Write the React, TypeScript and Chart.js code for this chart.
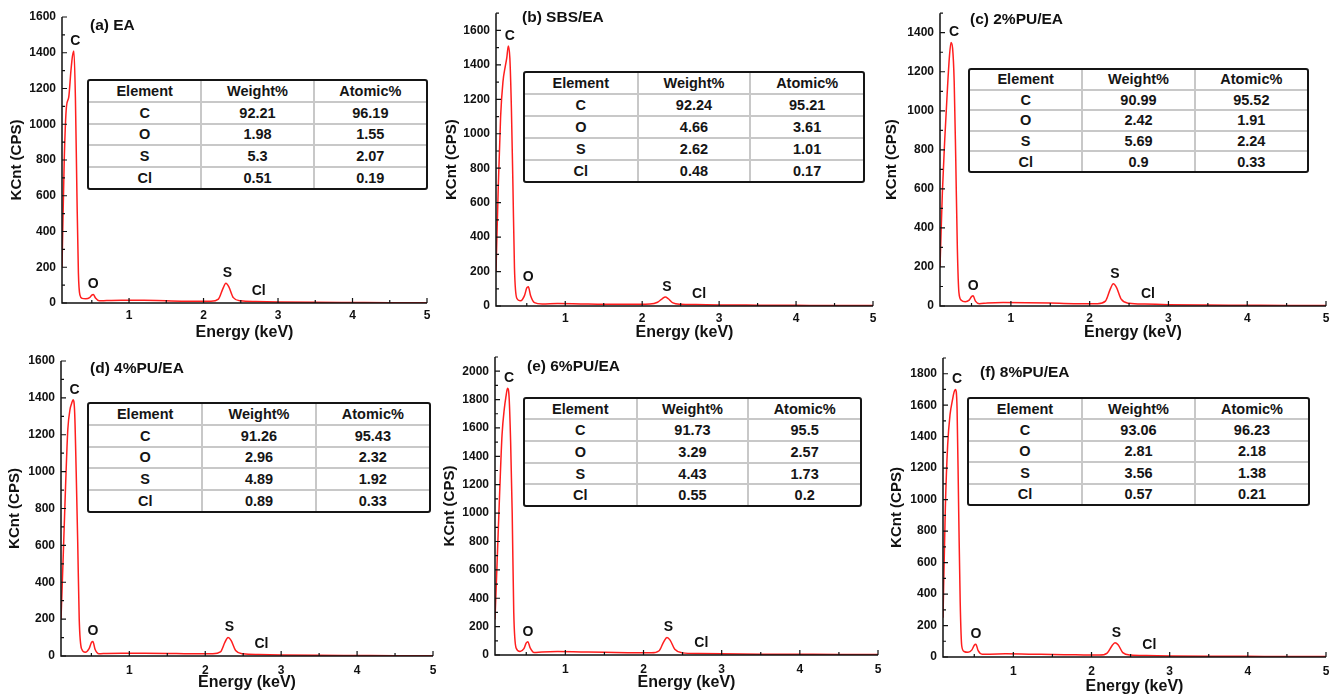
import React, { useEffect, useRef } from 'react';
import { Chart, registerables } from 'chart.js';

Chart.register(...registerables);

const FONT = "'Liberation Sans', Arial, Helvetica, sans-serif";
Chart.defaults.font.family = FONT;

// ---------- data ----------
const energy = [0.1, 0.13, 0.16, 0.19, 0.22, 0.24, 0.26, 0.28, 0.3, 0.32, 0.34, 0.37, 0.42, 0.47, 0.5, 0.52, 0.55, 0.6, 0.7, 0.9, 1.2, 1.5, 1.8, 2.1, 2.2, 2.26, 2.3, 2.34, 2.4, 2.5, 2.7, 3.0, 3.5, 4.0, 4.5, 5.0];

const countsA = [200, 800, 1100, 1150, 1300, 1380, 1410, 1150, 620, 170, 45, 26, 24, 30, 44, 48, 28, 12, 14, 16, 15, 12, 10, 10, 22, 80, 110, 90, 30, 12, 8, 6, 4, 3, 2, 2];
const countsB = [200, 700, 1100, 1300, 1390, 1440, 1510, 1440, 1150, 700, 220, 45, 30, 60, 105, 112, 60, 20, 12, 14, 12, 10, 10, 12, 22, 42, 52, 42, 18, 10, 8, 6, 5, 4, 3, 3];
const countsC = [200, 580, 850, 1080, 1280, 1350, 1320, 1150, 750, 300, 70, 30, 22, 30, 48, 52, 25, 12, 16, 18, 17, 15, 12, 12, 25, 85, 114, 95, 35, 14, 10, 7, 5, 4, 3, 3];
const countsD = [200, 550, 920, 1230, 1340, 1370, 1390, 1320, 1000, 620, 200, 40, 20, 40, 72, 78, 35, 12, 14, 15, 15, 14, 12, 12, 22, 75, 100, 85, 30, 12, 8, 6, 4, 3, 2, 2];
const countsE = [250, 700, 1150, 1550, 1740, 1820, 1880, 1820, 1500, 1000, 300, 50, 25, 45, 85, 94, 50, 18, 22, 24, 22, 20, 16, 15, 30, 95, 124, 105, 40, 15, 10, 8, 6, 5, 4, 4];
const countsF = [250, 950, 1350, 1540, 1630, 1680, 1700, 1580, 950, 350, 70, 35, 30, 45, 75, 81, 40, 18, 18, 20, 18, 16, 14, 12, 25, 70, 91, 78, 28, 12, 9, 7, 5, 4, 3, 3];

const xTicks = [1, 2, 3, 4, 5];
const yTicksA = [0, 200, 400, 600, 800, 1000, 1200, 1400, 1600];
const yTicksB = [0, 200, 400, 600, 800, 1000, 1200, 1400, 1600];
const yTicksC = [0, 200, 400, 600, 800, 1000, 1200, 1400];
const yTicksD = [0, 200, 400, 600, 800, 1000, 1200, 1400, 1600];
const yTicksE = [0, 200, 400, 600, 800, 1000, 1200, 1400, 1600, 1800, 2000];
const yTicksF = [0, 200, 400, 600, 800, 1000, 1200, 1400, 1600, 1800];

const elements = ['C', 'O', 'S', 'Cl'];
const labelEnergy = [0.28, 0.52, 2.32, 2.74];
const tableHeaders = ['Element', 'Weight%', 'Atomic%'];

const weightA = [92.21, 1.98, 5.3, 0.51];
const atomicA = [96.19, 1.55, 2.07, 0.19];
const weightB = [92.24, 4.66, 2.62, 0.48];
const atomicB = [95.21, 3.61, 1.01, 0.17];
const weightC = [90.99, 2.42, 5.69, 0.9];
const atomicC = [95.52, 1.91, 2.24, 0.33];
const weightD = [91.26, 2.96, 4.89, 0.89];
const atomicD = [95.43, 2.32, 1.92, 0.33];
const weightE = [91.73, 3.29, 4.43, 0.55];
const atomicE = [95.5, 2.57, 1.73, 0.2];
const weightF = [93.06, 2.81, 3.56, 0.57];
const atomicF = [96.23, 2.18, 1.38, 0.21];

const panelTitles = ['(a) EA', '(b) SBS/EA', '(c) 2%PU/EA', '(d) 4%PU/EA', '(e) 6%PU/EA', '(f) 8%PU/EA'];
const yMaxes = [1600, 1700, 1500, 1600, 2100, 1900];

// ---------- layout ----------
const W = 1338;
const H = 695;

const PANELS = [
  { title: panelTitles[0], counts: countsA, yTicks: yTicksA, yMax: yMaxes[0], weight: weightA, atomic: atomicA,
    box: { left: 62, right: 427, top: 17, bottom: 303, yGap: 45, xGap: 30, xPad: 5 },
    table: { x: 87, y: 79, w: 341, h: 111 }, titlePos: { x: 90, y: 25 } },
  { title: panelTitles[1], counts: countsB, yTicks: yTicksB, yMax: yMaxes[1], weight: weightB, atomic: atomicB,
    box: { left: 496, right: 873, top: 8.5, bottom: 306, yGap: 44, xGap: 27, xPad: 5 },
    table: { x: 523, y: 71, w: 342, h: 112 }, titlePos: { x: 522, y: 17 } },
  { title: panelTitles[2], counts: countsC, yTicks: yTicksC, yMax: yMaxes[2], weight: weightC, atomic: atomicC,
    box: { left: 940, right: 1326, top: 7, bottom: 306, yGap: 48, xGap: 27, xPad: 5 },
    table: { x: 968, y: 68, w: 341, h: 105 }, titlePos: { x: 970, y: 19 } },
  { title: panelTitles[3], counts: countsD, yTicks: yTicksD, yMax: yMaxes[3], weight: weightD, atomic: atomicD,
    box: { left: 61, right: 433, top: 361, bottom: 656, yGap: 46, xGap: 27, xPad: 7 },
    table: { x: 87, y: 402, w: 344, h: 111 }, titlePos: { x: 90, y: 368 } },
  { title: panelTitles[4], counts: countsE, yTicks: yTicksE, yMax: yMaxes[4], weight: weightE, atomic: atomicE,
    box: { left: 495, right: 878, top: 357, bottom: 655, yGap: 45, xGap: 28, xPad: 7 },
    table: { x: 523, y: 397, w: 339, h: 110 }, titlePos: { x: 527, y: 366 } },
  { title: panelTitles[5], counts: countsF, yTicks: yTicksF, yMax: yMaxes[5], weight: weightF, atomic: atomicF,
    box: { left: 943, right: 1326, top: 358, bottom: 657, yGap: 46, xGap: 30, xPad: 7 },
    table: { x: 967, y: 397, w: 343, h: 109 }, titlePos: { x: 980, y: 372 } },
];

type PanelT = typeof PANELS[number];

function makePlugin(p: PanelT) {
  return {
    id: 'edsDecor',
    afterDraw(chart: any) {
      const { ctx, chartArea: a } = chart;
      const xs = chart.scales.x;
      const ys = chart.scales.y;
      ctx.save();
      ctx.strokeStyle = '#111';
      ctx.lineWidth = 1.5;
      ctx.beginPath();
      ctx.moveTo(a.left, a.top);
      ctx.lineTo(a.left, a.bottom);
      ctx.lineTo(a.right, a.bottom);
      ctx.stroke();
      ctx.lineWidth = 1.2;
      ctx.beginPath();
      for (let v = 0; v <= p.yMax + 1e-6; v += 100) {
        const major = p.yTicks.includes(v);
        const py = ys.getPixelForValue(v);
        ctx.moveTo(a.left, py);
        ctx.lineTo(a.left + (major ? 5 : 3), py);
      }
      for (let k = 1; k <= 10; k++) {
        const v = k * 0.5;
        const major = xTicks.includes(v);
        const px = xs.getPixelForValue(v);
        ctx.moveTo(px, a.bottom);
        ctx.lineTo(px, a.bottom - (major ? 5 : 3));
      }
      ctx.stroke();
      ctx.fillStyle = '#111';
      ctx.font = `bold 14px ${FONT}`;
      ctx.textAlign = 'center';
      ctx.textBaseline = 'middle';
      elements.forEach((lab, i) => {
        const e = labelEnergy[i];
        let m = 0;
        energy.forEach((en, j) => {
          if (Math.abs(en - e) <= 0.05) m = Math.max(m, p.counts[j]);
        });
        ctx.fillText(lab, xs.getPixelForValue(e), ys.getPixelForValue(m) - 10);
      });
      ctx.restore();
    },
  };
}

function Spectrum({ p }: { p: PanelT }) {
  const ref = useRef<HTMLCanvasElement>(null);
  useEffect(() => {
    const b = p.box;
    const YW = b.yGap + 9;
    const XH = b.xGap + 8;
    const tickFont = { size: 12, weight: 'bold' as const };
    const chart = new Chart(ref.current!, {
      type: 'line',
      data: {
        datasets: [{
          data: energy.map((e, i) => ({ x: e, y: p.counts[i] })),
          borderColor: '#ff1e1e',
          borderWidth: 1.5,
          pointRadius: 0,
          fill: false,
          cubicInterpolationMode: 'monotone',
        }],
      },
      options: {
        animation: false,
        responsive: false,
        events: [],
        layout: {
          padding: { left: b.left - YW, top: b.top, right: W - b.right, bottom: H - b.bottom - XH },
        },
        plugins: { legend: { display: false }, tooltip: { enabled: false } },
        scales: {
          x: {
            type: 'linear',
            min: 0.1,
            max: 5,
            afterBuildTicks: (s: any) => { s.ticks = xTicks.map((v) => ({ value: v })); },
            afterFit: (s: any) => { s.height = XH; },
            grid: { display: false, drawTicks: false },
            border: { display: false },
            ticks: { font: tickFont, color: '#111', padding: b.xPad, maxRotation: 0, autoSkip: false, callback: (v: any) => String(v) },
            title: { display: true, text: 'Energy (keV)', color: '#111', font: { size: 16, weight: 'bold', lineHeight: 1 }, padding: 0 },
          },
          y: {
            type: 'linear',
            min: 0,
            max: p.yMax,
            afterBuildTicks: (s: any) => { s.ticks = p.yTicks.map((v) => ({ value: v })); },
            afterFit: (s: any) => { s.width = YW; },
            grid: { display: false, drawTicks: false },
            border: { display: false },
            ticks: { font: tickFont, color: '#111', padding: 6, autoSkip: false, callback: (v: any) => String(v) },
            title: { display: true, text: 'KCnt (CPS)', color: '#111', font: { size: 15, weight: 'bold', lineHeight: 1.2 }, padding: 0 },
          },
        },
      },
      plugins: [makePlugin(p)],
    } as any);
    return () => chart.destroy();
  }, []);
  return <canvas ref={ref} width={W} height={H} style={{ position: 'absolute', left: 0, top: 0, width: W, height: H }} />;
}

function DataTable({ p }: { p: PanelT }) {
  const rows: (string | number)[][] = [tableHeaders, ...elements.map((el, i) => [el, p.weight[i], p.atomic[i]])];
  const t = p.table;
  return (
    <div style={{ position: 'absolute', left: t.x, top: t.y, width: t.w, height: t.h, border: '2px solid #151515', borderRadius: 3, boxSizing: 'border-box', background: '#fff' }}>
      <table style={{ width: '100%', height: '100%', borderCollapse: 'collapse', tableLayout: 'fixed' }}>
        <tbody>
          {rows.map((r, ri) => (
            <tr key={ri}>
              {r.map((c, ci) => (
                <td key={ci} style={{
                  borderLeft: ci > 0 ? '2px solid #c8c8c8' : 'none',
                  borderTop: ri > 0 ? '2px solid #c8c8c8' : 'none',
                  textAlign: 'center', padding: 0, color: '#151515',
                  font: `bold 14.5px ${FONT}`, lineHeight: '16px',
                }}>{String(c)}</td>
              ))}
            </tr>
          ))}
        </tbody>
      </table>
    </div>
  );
}

export default function App() {
  return (
    <div style={{ position: 'fixed', left: 0, top: 0, width: W, height: H, background: '#fff', overflow: 'hidden' }}>
      {PANELS.map((p, i) => <Spectrum key={'s' + i} p={p} />)}
      {PANELS.map((p, i) => <DataTable key={'t' + i} p={p} />)}
      {PANELS.map((p, i) => (
        <div key={'h' + i} style={{ position: 'absolute', left: p.titlePos.x, top: p.titlePos.y - 9, font: `bold 15.5px ${FONT}`, lineHeight: '18px', whiteSpace: 'nowrap', color: '#111' }}>{p.title}</div>
      ))}
    </div>
  );
}
